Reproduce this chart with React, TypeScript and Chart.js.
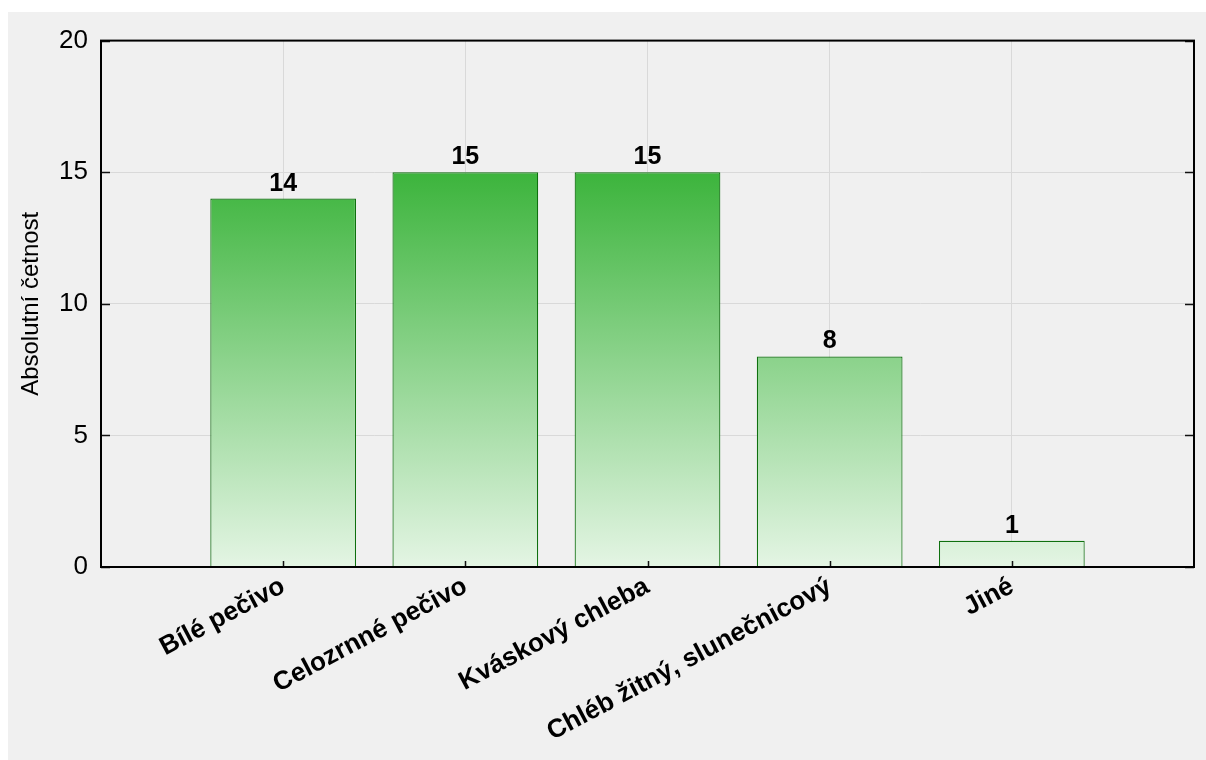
import React, { useEffect, useRef } from 'react';
import { Chart, registerables } from 'chart.js';

Chart.register(...registerables);

const categories = ['Bílé pečivo', 'Celozrnné pečivo', 'Kváskový chleba', 'Chléb žitný, slunečnicový', 'Jiné'];
const counts = [14, 15, 15, 8, 1];
const yTicks = [0, 5, 10, 15, 20];
const yTitle = 'Absolutní četnost';

const FONT = '"Liberation Sans", Arial, Helvetica, sans-serif';

export default function App() {
  const ref = useRef<HTMLCanvasElement>(null);

  useEffect(() => {
    const canvas = ref.current;
    if (!canvas) return;
    document.documentElement.style.overflow = 'hidden';

    const labels = ['', ...categories, ''];
    const data: (number | null)[] = [null, ...counts, null];

    const framePlugin = {
      id: 'frame',
      afterDatasetsDraw(chart: any) {
        const { ctx, chartArea } = chart;
        const y = chart.scales.y;
        const x = chart.scales.x;
        ctx.save();
        ctx.strokeStyle = '#111';
        ctx.lineWidth = 1.5;
        ctx.beginPath();
        yTicks.forEach((v) => {
          const py = Math.round(y.getPixelForValue(v)) + 0.5;
          ctx.moveTo(chartArea.left, py);
          ctx.lineTo(chartArea.left + 9, py);
          ctx.moveTo(chartArea.right, py);
          ctx.lineTo(chartArea.right - 9, py);
        });
        categories.forEach((_, i) => {
          const px = Math.round(x.getPixelForValue(i + 1)) + 0.5;
          ctx.moveTo(px, chartArea.bottom);
          ctx.lineTo(px, chartArea.bottom - 6);
        });
        ctx.stroke();
        ctx.lineWidth = 2;
        ctx.strokeStyle = '#000';
        ctx.strokeRect(chartArea.left, chartArea.top, chartArea.right - chartArea.left, chartArea.bottom - chartArea.top);
        ctx.restore();
      },
    };

    const valueLabels = {
      id: 'valueLabels',
      afterDatasetsDraw(chart: any) {
        const { ctx } = chart;
        const meta = chart.getDatasetMeta(0);
        ctx.save();
        ctx.font = `bold 25px ${FONT}`;
        ctx.fillStyle = '#000';
        ctx.textAlign = 'center';
        ctx.textBaseline = 'alphabetic';
        meta.data.forEach((el: any, i: number) => {
          const v = data[i];
          if (v === null || v === undefined) return;
          ctx.fillText(String(v), el.x, el.y - 8);
        });
        ctx.restore();
      },
    };

    const chart = new Chart(canvas, {
      type: 'bar',
      data: {
        labels,
        datasets: [
          {
            data,
            backgroundColor: (c: any) => {
              const ch = c.chart;
              const { ctx, chartArea, scales } = ch;
              if (!chartArea || !scales.y) return '#7fcf7f';
              const y0 = scales.y.getPixelForValue(0);
              const y1 = scales.y.getPixelForValue(15);
              const g = ctx.createLinearGradient(0, y0, 0, y1);
              g.addColorStop(0, '#e4f5e4');
              g.addColorStop(1, '#3cb43c');
              return g;
            },
            borderColor: '#0f700f',
            borderWidth: 1.2,
            categoryPercentage: 0.8,
            barPercentage: 1,
          },
        ],
      },
      options: {
        responsive: false,
        animation: false,
        events: [],
        layout: { padding: { top: 28, right: 12, left: 0, bottom: 0 } },
        plugins: {
          legend: { display: false },
          tooltip: { enabled: false },
        },
        scales: {
          x: {
            type: 'category',
            offset: false,
            grid: {
              offset: false,
              drawTicks: false,
              color: (c: any) => (c.index === 0 || c.index === labels.length - 1 ? 'rgba(0,0,0,0)' : '#d9d9d9'),
              lineWidth: 1,
            },
            border: { display: false },
            ticks: {
              autoSkip: false,
              minRotation: 28,
              maxRotation: 28,
              padding: 4,
              color: '#000',
              font: { family: FONT, size: 26, weight: 'bold' },
            },
            afterFit: (s: any) => {
              s.height = 193;
              s.paddingLeft = 0;
              s.paddingRight = 0;
            },
          },
          y: {
            min: 0,
            max: 20,
            grid: { drawTicks: false, color: '#d9d9d9', lineWidth: 1 },
            border: { display: false },
            afterBuildTicks: (s: any) => {
              s.ticks = yTicks.map((v) => ({ value: v }));
            },
            ticks: {
              padding: 13,
              color: '#000',
              font: { family: FONT, size: 26 },
            },
            title: {
              display: true,
              text: yTitle,
              color: '#000',
              font: { family: FONT, size: 24 },
              padding: { top: 9, bottom: 0 },
            },
            afterFit: (s: any) => {
              s.width = 93;
            },
          },
        },
      },
      plugins: [framePlugin, valueLabels],
    });

    return () => {
      chart.destroy();
    };
  }, []);

  return (
    <div
      style={{
        position: 'absolute',
        left: 8,
        top: 12,
        right: 0,
        bottom: 0,
        background: '#f0f0f0',
      }}
    >
      <canvas ref={ref} width={1198} height={748} style={{ display: 'block' }} />
    </div>
  );
}
